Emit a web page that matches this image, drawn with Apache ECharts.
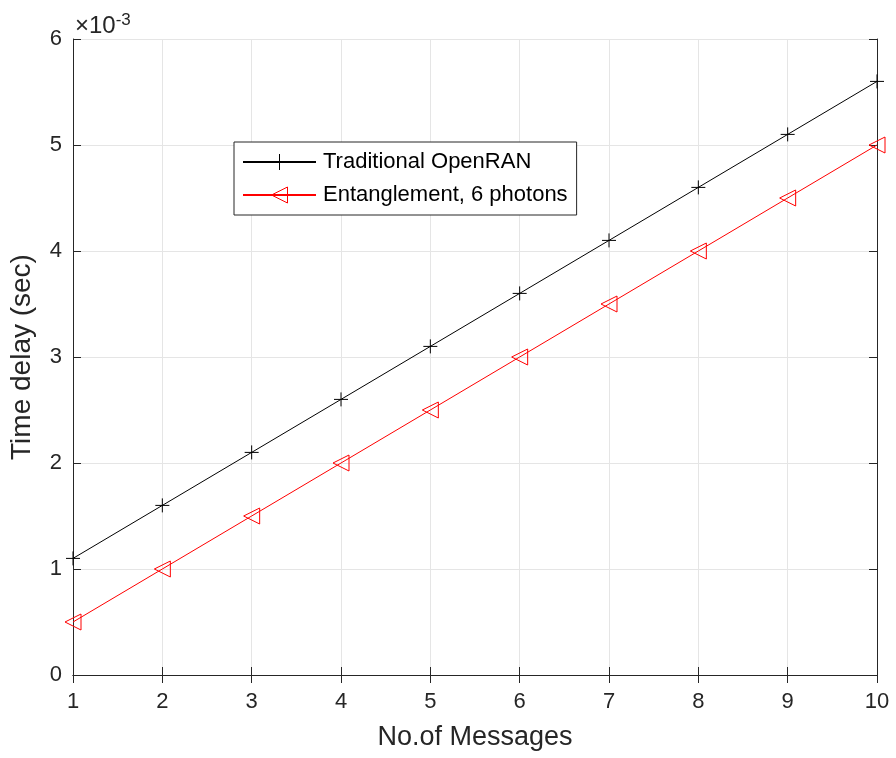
<!DOCTYPE html>
<html>
<head>
<meta charset="utf-8">
<script src="https://cdn.jsdelivr.net/npm/echarts@6/dist/echarts.min.js"></script>
<style>html,body{margin:0;padding:0;background:#fff;}#c{width:896px;height:758px;}</style>
</head>
<body>
<div id="c"></div>
<script>
// Data (y values in units of 1e-3 s)
const messages = [1, 2, 3, 4, 5, 6, 7, 8, 9, 10];
const traditional = [1.1, 1.6, 2.1, 2.6, 3.1, 3.6, 4.1, 4.6, 5.1, 5.6];
const entangle = [0.5, 1.0, 1.5, 2.0, 2.5, 3.0, 3.5, 4.0, 4.5, 5.0];
const seriesNames = ['Traditional OpenRAN', 'Entanglement, 6 photons'];
const xTitle = 'No.of Messages';
const yTitle = 'Time delay (sec)';

const FONT = "'Liberation Sans', Arial, Helvetica, sans-serif";
const TXT = '#262626';
const GRIDC = '#e5e5e5';

const chart = echarts.init(document.getElementById('c'), null, {renderer: 'canvas'});
const pair = (xs, ys) => xs.map((x, i) => [x, ys[i]]);

const axisCommon = {
  axisLine: {show: true, lineStyle: {color: TXT, width: 1}},
  axisTick: {show: true, inside: true, length: 8, lineStyle: {color: TXT, width: 1}},
};

chart.setOption({
  animation: false,
  backgroundColor: '#fff',
  textStyle: {fontFamily: FONT},
  grid: {left: 73, right: 19, top: 39, bottom: 83, containLabel: false},
  xAxis: [{
    type: 'value', min: 1, max: 10, interval: 1,
    ...axisCommon,
    axisLabel: {color: TXT, fontSize: 22, fontFamily: FONT, margin: 16},
    splitLine: {show: true, lineStyle: {color: GRIDC, width: 1}},
    name: xTitle, nameLocation: 'middle', nameGap: 49,
    nameTextStyle: {color: TXT, fontSize: 27, fontFamily: FONT}
  }, {
    type: 'value', min: 1, max: 10, interval: 1, position: 'top',
    ...axisCommon,
    axisLabel: {show: false}, splitLine: {show: false}
  }],
  yAxis: [{
    type: 'value', min: 0, max: 6, interval: 1,
    ...axisCommon,
    axisLabel: {color: TXT, fontSize: 22, fontFamily: FONT, margin: 11},
    splitLine: {show: true, lineStyle: {color: GRIDC, width: 1}},
    name: yTitle, nameLocation: 'middle', nameGap: 37,
    nameTextStyle: {color: TXT, fontSize: 28, fontFamily: FONT}
  }, {
    type: 'value', min: 0, max: 6, interval: 1, position: 'right',
    ...axisCommon,
    axisLabel: {show: false}, splitLine: {show: false}
  }],
  legend: {
    orient: 'vertical', left: 234, top: 142,
    backgroundColor: '#fff', borderColor: TXT, borderWidth: 1, borderRadius: 0,
    padding: [9, 9, 9, 8], itemWidth: 73, itemHeight: 20, itemGap: 11,
    textStyle: {color: '#000', fontSize: 22, fontFamily: FONT, padding: [0, 0, 0, 2]},
    data: [
      {name: seriesNames[0], itemStyle: {color: 'transparent', borderColor: '#000', borderWidth: 1}},
      {name: seriesNames[1], itemStyle: {color: 'transparent', borderColor: '#ff0000', borderWidth: 1}}
    ]
  },
  series: [{
    name: seriesNames[0], type: 'line', data: pair(messages, traditional),
    symbol: 'path://M0,-1L0,1M-1,0L1,0', symbolSize: 14, showAllSymbol: true,
    lineStyle: {color: '#000', width: 1},
    itemStyle: {color: 'transparent', borderColor: '#000', borderWidth: 1},
    clip: false, z: 3
  }, {
    name: seriesNames[1], type: 'line', data: pair(messages, entangle),
    symbol: 'triangle', symbolRotate: 90, symbolSize: [16, 16], showAllSymbol: true,
    lineStyle: {color: '#ff0000', width: 1},
    itemStyle: {color: 'transparent', borderColor: '#ff0000', borderWidth: 1},
    clip: false, z: 3
  }],
  graphic: [{
    type: 'text', left: 75, top: 12,
    style: {
      text: '×10{s|-3}', fill: TXT, fontSize: 24, fontFamily: FONT,
      rich: {s: {fontSize: 17, fill: TXT, fontFamily: FONT, verticalAlign: 'top', padding: [0, 0, 12, 0]}}
    }
  }]
});
</script>
</body>
</html>
